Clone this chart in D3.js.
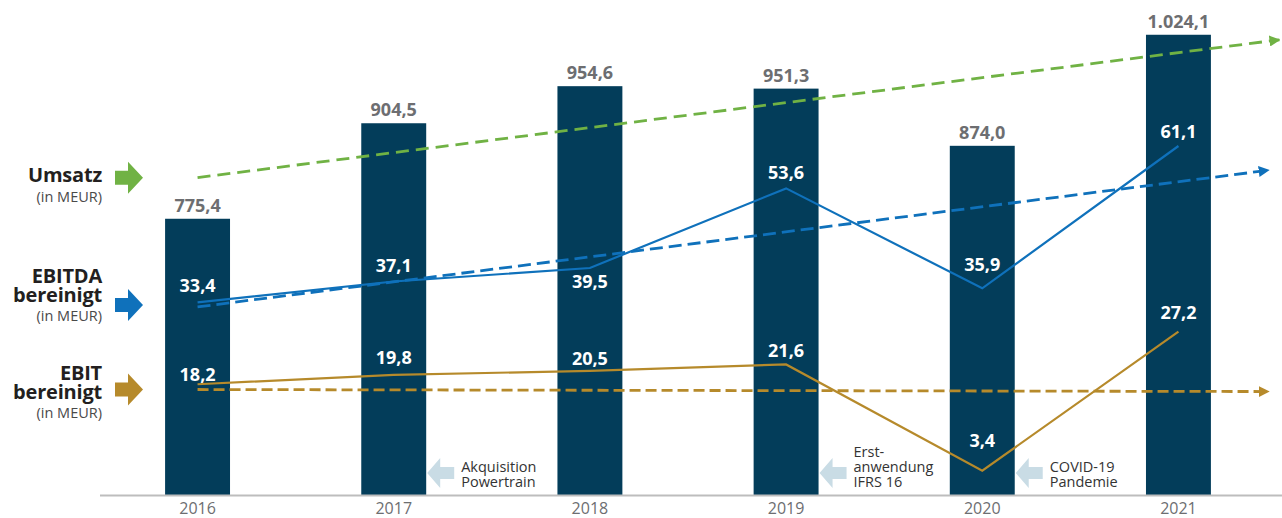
<!DOCTYPE html>
<html>
<head>
<meta charset="utf-8">
<script src="https://cdn.jsdelivr.net/npm/d3@7"></script>
<style>
  body { margin: 0; background: #fff; }
  svg { display: block; font-family: 'Open Sans', 'Noto Sans', sans-serif; }
</style>
</head>
<body>
<div id="viz"></div>
<script>
const width = 1282;
const height = 518;

// data
const years = ['2016', '2017', '2018', '2019', '2020', '2021'];
const umsatz = [775.4, 904.5, 954.6, 951.3, 874.0, 1024.1];
const ebitda = [33.4, 37.1, 39.5, 53.6, 35.9, 61.1];
const ebit = [18.2, 19.8, 20.5, 21.6, 3.4, 27.2];
// trend lines: value at 2016 and at the arrow tip
const umsatzTrend = [831, 1018];
const ebitdaTrend = [32.6, 56.9];
const ebitTrend = [17.3, 16.95];
const noteYears = ['2017', '2019', '2020'];
const noteTexts = [['Akquisition', 'Powertrain'], ['Erst-', 'anwendung', 'IFRS 16'], ['COVID-19', 'Pandemie']];
const legendTitles = [['Umsatz'], ['EBITDA', 'bereinigt'], ['EBIT', 'bereinigt']];
const legendUnit = '(in MEUR)';

const colorBar = '#033d5a';
const colorUmsatz = '#70b244';
const colorEbitda = '#0f71bb';
const colorEbit = '#b68a2b';
const colorNote = '#c9dce5';
const colorGrey = '#6d6e71';

const de = d3.formatLocale({decimal: ',', thousands: '.', grouping: [3], currency: ['', '€']});
const fmt = de.format(',.1f');

const svg = d3.select('#viz')
  .append('svg')
    .attr('width', width)
    .attr('height', height)
    .attr('viewBox', [0, 0, width, height]);

// scales
const x = d3.scaleBand()
  .domain(years)
  .range([67, 1309])
  .paddingInner(0.669)
  .paddingOuter(0.5);
const bw = x.bandwidth();
const cx = y => x(y) + bw / 2;
const xi = d3.scaleLinear().domain([0, 5]).range([cx(years[0]), cx(years[5])]);

const yBar = d3.scaleLinear().domain([400, 1050]).range([496.5, 15.6]);
const yEbitda = d3.scaleLinear().domain([0, 80]).range([491, 39.3]);
const yEbit = d3.scaleLinear().domain([0, 80]).range([490.5, 23.5]);
const baseY = 495;

// markers
const defs = svg.append('defs');
[['ar-u', colorUmsatz], ['ar-a', colorEbitda], ['ar-e', colorEbit]].forEach(([id, c]) => {
  defs.append('marker')
      .attr('id', id)
      .attr('viewBox', '0 0 10 10')
      .attr('refX', 9)
      .attr('refY', 5)
      .attr('markerWidth', 11)
      .attr('markerHeight', 11)
      .attr('markerUnits', 'userSpaceOnUse')
      .attr('orient', 'auto')
    .append('path')
      .attr('d', 'M0,0 L10,5 L0,10 Z')
      .attr('fill', c);
});

// bars
svg.append('g')
  .selectAll('rect')
  .data(umsatz)
  .join('rect')
    .attr('x', (d, i) => x(years[i]))
    .attr('y', d => yBar(d))
    .attr('width', bw)
    .attr('height', d => baseY - yBar(d))
    .attr('fill', colorBar);

svg.append('g')
  .selectAll('text')
  .data(umsatz)
  .join('text')
    .attr('x', (d, i) => cx(years[i]))
    .attr('y', d => yBar(d) - 7)
    .attr('text-anchor', 'middle')
    .attr('fill', colorGrey)
    .attr('font-size', 18)
    .attr('font-weight', 700)
    .text(d => fmt(d));

// axis
svg.append('line')
    .attr('x1', 100).attr('x2', width)
    .attr('y1', baseY + 0.5).attr('y2', baseY + 0.5)
    .attr('stroke', '#bdbdbd')
    .attr('stroke-width', 2);

const xAxis = svg.append('g')
    .attr('transform', `translate(0,${baseY})`)
    .call(d3.axisBottom(x).tickSize(0).tickPadding(8));
xAxis.select('.domain').remove();
xAxis.selectAll('text')
    .attr('fill', colorGrey)
    .attr('font-size', 16)
    .attr('font-family', "'Open Sans', sans-serif");

// trend lines (dashed)
const trendEnd = {u: 5.535, a: 5.48, e: 5.48};
const trends = [
  {vals: umsatzTrend, scale: yBar, color: colorUmsatz, end: trendEnd.u, m: 'ar-u', dash: '13,7'},
  {vals: ebitdaTrend, scale: yEbitda, color: colorEbitda, end: trendEnd.a, m: 'ar-a', dash: '13,6'},
  {vals: ebitTrend, scale: yEbit, color: colorEbit, end: trendEnd.e, m: 'ar-e', dash: '11,5'}
];
const trendLine = d3.line();
svg.append('g')
  .selectAll('path')
  .data(trends)
  .join('path')
    .attr('d', t => {
      const x0 = xi(0), x1 = xi(t.end);
      const y0 = t.scale(t.vals[0]), y1 = t.scale(t.vals[1]);
      const k = (x1 - 4 - x0) / (x1 - x0);
      return trendLine([[x0, y0], [x1 - 4, y0 + (y1 - y0) * k]]);
    })
    .attr('fill', 'none')
    .attr('stroke', t => t.color)
    .attr('stroke-width', 2.8)
    .attr('stroke-dasharray', t => t.dash)
    .attr('marker-end', t => `url(#${t.m})`);

// solid lines
const lineA = d3.line().x((d, i) => xi(i)).y(d => yEbitda(d));
const lineE = d3.line().x((d, i) => xi(i)).y(d => yEbit(d));
svg.append('path')
    .attr('d', lineA(ebitda))
    .attr('fill', 'none')
    .attr('stroke', colorEbitda)
    .attr('stroke-width', 2.2);
svg.append('path')
    .attr('d', lineE(ebit))
    .attr('fill', 'none')
    .attr('stroke', colorEbit)
    .attr('stroke-width', 2.2);

// value labels inside bars
const ebitdaLabelOffset = [-10, -10, 20, -9, -17, -8];
const ebitLabelOffset = [-3, -11, -6, -7, -24, -13];
svg.append('g')
  .selectAll('text')
  .data(ebitda)
  .join('text')
    .attr('x', (d, i) => xi(i))
    .attr('y', (d, i) => yEbitda(d) + ebitdaLabelOffset[i])
    .attr('text-anchor', 'middle')
    .attr('fill', '#fff')
    .attr('font-size', 18)
    .attr('font-weight', 700)
    .text(d => fmt(d));
svg.append('g')
  .selectAll('text')
  .data(ebit)
  .join('text')
    .attr('x', (d, i) => xi(i))
    .attr('y', (d, i) => yEbit(d) + ebitLabelOffset[i])
    .attr('text-anchor', 'middle')
    .attr('fill', '#fff')
    .attr('font-size', 18)
    .attr('font-weight', 700)
    .text(d => fmt(d));

// block arrows
function arrowRight(tx, ty) {
  // tip at (tx, ty)
  return `M${tx},${ty} L${tx - 15},${ty - 16} L${tx - 15},${ty - 7} L${tx - 28},${ty - 7} L${tx - 28},${ty + 7} L${tx - 15},${ty + 7} L${tx - 15},${ty + 16} Z`;
}
function arrowLeft(tx, ty) {
  return `M${tx},${ty} L${tx + 13},${ty - 15} L${tx + 13},${ty - 6} L${tx + 27},${ty - 6} L${tx + 27},${ty + 6} L${tx + 13},${ty + 6} L${tx + 13},${ty + 15} Z`;
}

// legend on the left
const legendColors = [colorUmsatz, colorEbitda, colorEbit];
const legendArrowY = [yBar(umsatzTrend[0]), yEbitda(ebitdaTrend[0]) - 2, yEbit(ebitTrend[0])];
const legendBaselines = [[182, 202], [283, 302, 321], [380, 399, 418]];
const legend = svg.append('g');
legendTitles.forEach((lines, k) => {
  legend.append('path')
      .attr('d', arrowRight(143, legendArrowY[k]))
      .attr('fill', legendColors[k]);
  const ys = legendBaselines[k];
  lines.forEach((l, j) => {
    legend.append('text')
        .attr('x', 102)
        .attr('y', ys[j])
        .attr('text-anchor', 'end')
        .attr('fill', '#231f20')
        .attr('font-size', 20)
        .attr('font-weight', 700)
        .attr('letter-spacing', -0.2)
        .text(l);
  });
  legend.append('text')
      .attr('x', 102)
      .attr('y', ys[ys.length - 1])
      .attr('text-anchor', 'end')
      .attr('fill', '#4a4a4a')
      .attr('font-size', 14.5)
      .text(legendUnit);
});

// notes
const notes = svg.append('g');
noteYears.forEach((yr, k) => {
  const tip = x(yr) + bw + 1;
  notes.append('path')
      .attr('d', arrowLeft(tip, 473))
      .attr('fill', colorNote);
  const lines = noteTexts[k];
  lines.forEach((l, j) => {
    notes.append('text')
        .attr('x', tip + 34)
        .attr('y', 487 - (lines.length - 1 - j) * 15)
        .attr('fill', '#333')
        .attr('font-size', 14.5)
        .text(l);
  });
});
</script>
</body>
</html>
